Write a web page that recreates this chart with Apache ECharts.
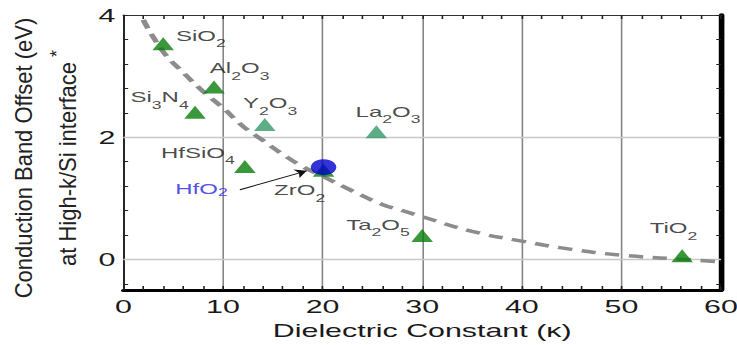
<!DOCTYPE html>
<html>
<head>
<meta charset="utf-8">
<script src="https://cdn.jsdelivr.net/npm/echarts@6/dist/echarts.min.js"></script>
<style>
  html, body { margin: 0; padding: 0; background: #fff; overflow: hidden; }
  /* the source picture is a horizontally stretched plot, so stretch ours the same way */
  #chart { width: 460.625px; height: 345px; transform: scaleX(1.6); transform-origin: 0 0; }
</style>
</head>
<body>
<div id="chart"></div>
<script>
var FONT = "'Liberation Sans', Arial, sans-serif";

// high-k materials: dielectric constant vs conduction band offset (eV)
var materials = ['SiO2', 'Al2O3', 'Si3N4', 'Y2O3', 'La2O3', 'HfSiO4', 'ZrO2', 'Ta2O5', 'TiO2'];
var kappa     = [4.0, 9.1, 7.2, 14.2, 25.4, 12.2, 20.1, 30.0, 56.1];
var cbo       = [3.53, 2.82, 2.41, 2.21, 2.09, 1.52, 1.46, 0.39, 0.06];
var lightGreen = ['Y2O3', 'La2O3'];

// HfO2 highlighted point and its arrow
var hfName = 'HfO2';
var hfPoint = [20.1, 1.51];
var arrowFrom = [11.7, 1.14];
var arrowTo = [18.4, 1.45];

// dashed trend curve
var trendK   = [2, 4, 6, 8, 10, 12, 14, 16, 18, 20, 23, 26, 28, 30, 35, 40, 45, 50, 55, 60];
var trendCbo = [3.92, 3.40, 3.06, 2.75, 2.48, 2.18, 1.95, 1.72, 1.52, 1.36, 1.12, 0.90, 0.80, 0.70, 0.46, 0.30, 0.165, 0.07, 0.015, -0.04];

// y axis labels / ticks / grid lines
var yLabelValues = [0, 2, 4];
var yTickValues = [-0.4, 0, 0.4, 0.8, 1.2, 1.6, 2, 2.4, 2.8, 3.2, 3.6, 4];
var yGridValues = [0, 2];

// label placement: [align, dx, dy]
var labelPlace = {
  SiO2:   ['left', 8, -8],
  Al2O3:  ['left', -2.6, -19],
  Si3N4:  ['right', -4, -15],
  Y2O3:   ['left', -13.6, -21.5],
  La2O3:  ['left', -13, -20],
  HfSiO4: ['right', -6.3, -14.3],
  ZrO2:   ['right', 1, 20],
  Ta2O5:  ['right', -7.8, -11.3],
  TiO2:   ['left', -20.3, -27.8],
  HfO2:   ['left', -92.7, 21.6]
};

function withSubs(name) {
  return name.replace(/([A-Za-z]+)/g, '{m|$1}').replace(/(\d)/g, '{s|$1}');
}

var chart = echarts.init(document.getElementById('chart'), null, {
  renderer: 'svg', width: 460.625, height: 345
});

var pointData = materials.map(function (m, i) {
  var p = labelPlace[m];
  return {
    name: m,
    value: [kappa[i], cbo[i]],
    itemStyle: { color: lightGreen.indexOf(m) >= 0 ? '#359a68' : '#0a7d0a' },
    label: { align: p[0], offset: [p[1], p[2]] }
  };
});

var subRich = {
  m: { fontSize: 15, fontFamily: FONT, color: '#1a1a1a', verticalAlign: 'middle' },
  s: { fontSize: 11, fontFamily: FONT, color: '#1a1a1a', verticalAlign: 'middle', padding: [16, 0, 0, 0] }
};
var hfRich = {
  m: { fontSize: 15, fontFamily: FONT, color: '#2424dc', verticalAlign: 'middle' },
  s: { fontSize: 11, fontFamily: FONT, color: '#2424dc', verticalAlign: 'middle', padding: [7, 0, 0, 0] }
};

var tickStyle = { color: '#222', width: 1 };

var option = {
  animation: false,
  textStyle: { fontFamily: FONT },
  grid: { left: 77.1, right: 10, top: 15, bottom: 55, outerBoundsMode: 'none' },
  xAxis: [{
    type: 'value', position: 'bottom', min: 0, max: 60, interval: 10,
    axisLine: { show: true, onZero: false, lineStyle: { color: '#000', width: 3 } },
    axisTick: { show: true, inside: true, length: 4, lineStyle: tickStyle },
    minorTick: { show: true, splitNumber: 5, length: 4, lineStyle: tickStyle },
    axisLabel: { fontSize: 19, color: '#1a1a1a', margin: 7, fontFamily: FONT },
    splitLine: { show: true, lineStyle: { color: '#868686', width: 1 } },
    name: 'Dielectric Constant (\u03ba)', nameLocation: 'middle', nameGap: 26,
    nameTextStyle: { fontSize: 19, color: '#1a1a1a', fontFamily: FONT }
  }, {
    type: 'value', position: 'top', min: 0, max: 60, interval: 10,
    axisLine: { show: true, onZero: false, lineStyle: { color: '#333', width: 1.2 } },
    axisTick: { show: true, inside: true, length: 4, lineStyle: tickStyle },
    minorTick: { show: true, splitNumber: 5, length: 4, lineStyle: tickStyle },
    axisLabel: { show: false },
    splitLine: { show: false }
  }],
  yAxis: [{
    type: 'value', position: 'left', min: -0.5, max: 4,
    axisLine: { show: true, onZero: false, lineStyle: { color: '#222', width: 1.2 } },
    axisTick: { show: true, inside: true, length: 3, customValues: yTickValues, lineStyle: tickStyle },
    axisLabel: { customValues: yLabelValues, fontSize: 19, color: '#1a1a1a', margin: 5, fontFamily: FONT },
    splitLine: { show: false }
  }, {
    type: 'value', position: 'right', min: -0.5, max: 4,
    axisLine: { show: true, onZero: false, lineStyle: { color: '#000', width: 3.5 } },
    axisTick: { show: true, inside: true, length: 3, customValues: yTickValues, lineStyle: tickStyle },
    axisLabel: { show: false },
    splitLine: { show: false }
  }],
  graphic: [{
    type: 'text',
    x: 28.75, y: 158,
    rotation: Math.PI / 2,
    scaleY: 0.655,
    style: {
      text: 'Conduction Band Offset (eV)\nat High-k/Si interface{sup| *}',
      fontFamily: FONT, fontSize: 22, fill: '#222',
      align: 'center', verticalAlign: 'middle', lineHeight: 42,
      rich: { sup: { fontSize: 18, lineHeight: 20, padding: [0, 0, 22, 0], fill: '#222', fontFamily: FONT } }
    }
  }],
  series: [{
    type: 'line',
    name: 'trend',
    data: trendK.map(function (k, i) { return [k, trendCbo[i]]; }),
    smooth: true,
    symbol: 'none',
    silent: true,
    z: 2,
    lineStyle: { color: '#8c8c8c', width: 3.5, type: [9, 6] },
    markLine: {
      silent: true, z: 1, symbol: 'none',
      label: { show: false },
      lineStyle: { color: '#c8c8c8', width: 1.3, type: 'solid' },
      data: yGridValues.map(function (v) { return { yAxis: v }; })
    }
  }, {
    type: 'scatter',
    name: 'oxides',
    data: pointData,
    symbol: 'triangle',
    symbolSize: [13.5, 13],
    z: 3,
    label: {
      show: true, position: 'inside', verticalAlign: 'middle',
      formatter: function (p) { return withSubs(p.name); },
      rich: subRich
    }
  }, {
    type: 'scatter',
    name: hfName,
    data: [{ name: hfName, value: hfPoint,
      label: { align: labelPlace.HfO2[0], offset: [labelPlace.HfO2[1], labelPlace.HfO2[2]] } }],
    symbol: 'circle',
    symbolSize: 16,
    z: 4,
    itemStyle: { color: '#0000cc' },
    label: {
      show: true, position: 'inside', verticalAlign: 'middle',
      formatter: function (p) { return withSubs(p.name); },
      rich: hfRich
    },
    markLine: {
      silent: true, symbol: ['none', 'arrow'], symbolSize: 7,
      label: { show: false },
      lineStyle: { color: '#111', width: 1, type: 'solid' },
      data: [[{ coord: arrowFrom }, { coord: arrowTo }]]
    }
  }]
};

chart.setOption(option);
</script>
</body>
</html>
